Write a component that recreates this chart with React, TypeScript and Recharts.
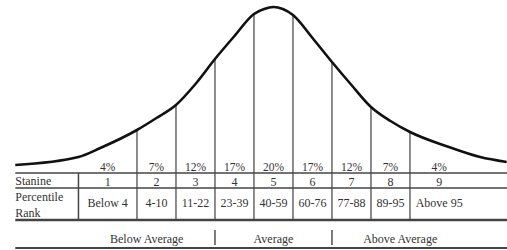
import React from 'react'
import { ComposedChart, Line, XAxis, YAxis, ReferenceLine, ReferenceDot } from 'recharts'

// curve: z-score -> height above the table's top rule
const curveZ = [-3.31, -2.5, -2.22, -1.75, -1.5, -1.25, -1.0, -0.75, -0.5, -0.25, -0.12, 0, 0.12, 0.25, 0.5, 0.75, 1.0, 1.25, 1.5, 1.75, 2.25, 2.65, 2.99]
const curveH = [8, 16, 25, 43, 55, 68, 89, 114, 137, 159, 164, 166, 164, 158, 135, 111, 88, 66, 52, 41, 26, 16, 11]

const stanineEdges = [-2.5, -1.75, -1.25, -0.75, -0.25, 0.25, 0.75, 1.25, 1.75, 2.5]
const percents = ['4%', '7%', '12%', '17%', '20%', '17%', '12%', '7%', '4%']
const stanines = ['1', '2', '3', '4', '5', '6', '7', '8', '9']
const percentileRanks = ['Below 4', '4-10', '11-22', '23-39', '40-59', '60-76', '77-88', '89-95', 'Above 95']
const groupEdges = [-2.5, -0.75, 0.75, 2.5]
const groupLabels = ['Below Average', 'Average', 'Above Average']

const data = curveZ.map((z, i) => ({ z, h: curveH[i] }))
const heightAt = (z: number) => curveH[curveZ.indexOf(z)]

const X_MIN = -3.506
const X_MAX = 2.994
const LEFT = -3.31

// table rows (same units as the curve height)
const ROW_TOP = 0
const ROW_STANINE = -15
const ROW_RANK = -47
const ROW_BOTTOM = -75

const FONT = "'Liberation Serif', 'Times New Roman', serif"
const INK = '#333'
const RULE = '#444'

const CellText = (props: any) => {
  const { viewBox, text, anchor = 'middle', size = 12 } = props
  const x = viewBox.x + (viewBox.width || 0) / 2
  const y = viewBox.y + (viewBox.height || 0) / 2
  return (
    <text x={x} y={y} textAnchor={anchor} dominantBaseline="central" fontFamily={FONT} fontSize={size} fill={INK}
      style={{ fontFamily: FONT }}>
      {text}
    </text>
  )
}

const textAt = (key: string, x: number, y: number, text: string, anchor = 'middle', size = 12) => (
  <ReferenceDot key={key} x={x} y={y} r={0} fill="none" stroke="none" ifOverflow="visible"
    label={<CellText text={text} anchor={anchor} size={size} />} />
)

const seg = (key: string, x1: number, y1: number, x2: number, y2: number, color = RULE, w = 1.5) => (
  <ReferenceLine key={key} segment={[{ x: x1, y: y1 }, { x: x2, y: y2 }]} stroke={color} strokeWidth={w} ifOverflow="visible" />
)

export default function App() {
  const centers = stanines.map((_, i) => (stanineEdges[i] + stanineEdges[i + 1]) / 2)
  return (
    <div style={{ position: 'absolute', left: 0, top: 0, background: '#fff' }}>
      <ComposedChart width={507} height={250} data={data} margin={{ top: 0, right: 0, bottom: 0, left: 0 }}>
        <XAxis type="number" dataKey="z" domain={[X_MIN, X_MAX]} hide />
        <YAxis type="number" domain={[-77, 173]} hide />

        {/* vertical rules from the curve down through the table */}
        {stanineEdges.slice(1, -1).map((z) => seg('v' + z, z, heightAt(z), z, ROW_RANK, '#666', 1.5))}
        {seg('vlabel', stanineEdges[0], ROW_TOP, stanineEdges[0], ROW_RANK, RULE, 1.5)}

        {/* horizontal table rules */}
        {seg('h0', LEFT, ROW_TOP, X_MAX, ROW_TOP, RULE, 1.6)}
        {seg('h1', LEFT, ROW_STANINE, X_MAX, ROW_STANINE, RULE, 1.6)}
        {seg('h2', LEFT, ROW_RANK, X_MAX, ROW_RANK, RULE, 2.4)}
        {seg('h3', LEFT, ROW_BOTTOM, X_MAX, ROW_BOTTOM, RULE, 1.8)}

        {/* group dividers */}
        {groupEdges.slice(1, -1).map((z) => seg('g' + z, z, -57, z, -72, RULE, 1.4))}

        <Line type="monotone" dataKey="h" stroke="#111" strokeWidth={2.6} dot={false} activeDot={false} isAnimationActive={false} />

        {percents.map((p, i) => textAt('p' + i, centers[i], 6, p, 'middle', 11.5))}
        {stanines.map((s, i) => textAt('s' + i, centers[i], -8.5, s))}
        {percentileRanks.map((r, i) => textAt('r' + i, centers[i], -30, r))}
        {textAt('lblS', LEFT, -8, 'Stanine', 'start')}
        {textAt('lblP', LEFT, -23.5, 'Percentile', 'start')}
        {textAt('lblR', LEFT, -39.5, 'Rank', 'start')}
        {groupLabels.map((g, i) => textAt('g' + i, (groupEdges[i] + groupEdges[i + 1]) / 2, -66, g))}
      </ComposedChart>
    </div>
  )
}
